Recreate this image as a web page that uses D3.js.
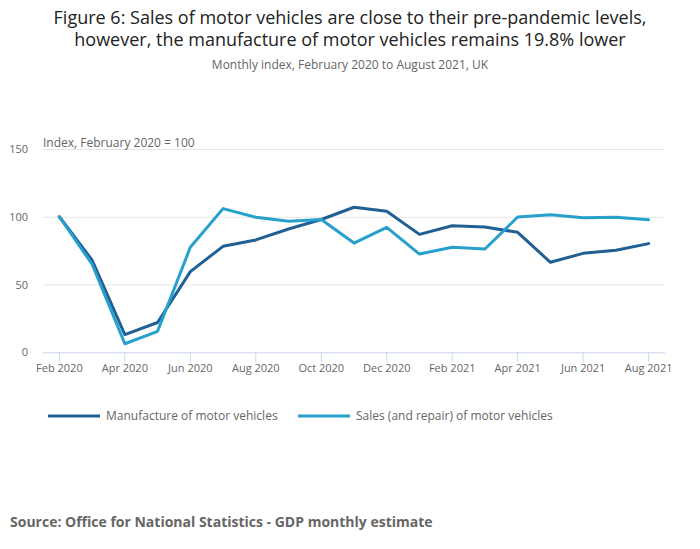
<!DOCTYPE html>
<html>
<head>
<meta charset="utf-8">
<script src="https://cdn.jsdelivr.net/npm/d3@7"></script>
<style>
  body { margin: 0; background: #fff; }
  svg { display: block; font-family: "Open Sans", sans-serif; }
</style>
</head>
<body>
<svg id="chart" width="700" height="549"></svg>
<script>
const months = ["Feb 2020","Mar 2020","Apr 2020","May 2020","Jun 2020","Jul 2020","Aug 2020","Sep 2020","Oct 2020","Nov 2020","Dec 2020","Jan 2021","Feb 2021","Mar 2021","Apr 2021","May 2021","Jun 2021","Jul 2021","Aug 2021"];
const manufacture = [100, 68, 13, 22, 59.5, 78.2, 82.9, 91, 98, 107, 104, 87, 93.4, 92.4, 88.5, 66.4, 73, 75.3, 80.2];
const sales = [100, 65, 6.3, 15.5, 77.5, 106, 99.6, 96.7, 98, 80.6, 92.2, 72.5, 77.5, 76.2, 99.8, 101.5, 99.3, 99.6, 97.8];
const yTicks = [0, 50, 100, 150];
const xTickLabels = months.filter((d, i) => i % 2 === 0);
const seriesNames = ["Manufacture of motor vehicles", "Sales (and repair) of motor vehicles"];
const colors = ["#206095", "#27a0cc"];

const svg = d3.select("#chart");
const pLeft = 43, pRight = 665, pTop = 149, pBottom = 352.3;

const x = d3.scaleBand().domain(months).range([pLeft, pRight]);
const xc = d => x(d) + x.bandwidth() / 2;
const y = d3.scaleLinear().domain([0, 150]).range([pBottom, pTop]);

// Titles
svg.append("text").attr("x", 350).attr("y", 24).attr("text-anchor", "middle")
  .attr("font-size", 18).attr("fill", "#222").text("Figure 6: Sales of motor vehicles are close to their pre-pandemic levels,");
svg.append("text").attr("x", 350).attr("y", 46).attr("text-anchor", "middle")
  .attr("font-size", 18).attr("fill", "#222").text("however, the manufacture of motor vehicles remains 19.8% lower");
svg.append("text").attr("x", 350).attr("y", 69).attr("text-anchor", "middle")
  .attr("font-size", 12).attr("fill", "#666").text("Monthly index, February 2020 to August 2021, UK");

// Grid
const yAxis = d3.axisLeft(y).tickValues(yTicks).tickSize(-(pRight - pLeft)).tickPadding(15);
const gy = svg.append("g").attr("transform", `translate(${pLeft},0)`).call(yAxis);
gy.select(".domain").remove();
gy.selectAll(".tick line").attr("stroke", "#e6e6e6");
gy.selectAll(".tick text").attr("font-size", 11).attr("fill", "#666").attr("font-family", "Open Sans, sans-serif");
gy.selectAll(".tick").filter(d => d === 0).select("line").remove();

// X axis
const xAxis = d3.axisBottom(x).tickValues(xTickLabels).tickSize(10).tickPadding(2).tickSizeOuter(0);
const gx = svg.append("g").attr("transform", `translate(0,${pBottom})`).call(xAxis);
gx.select(".domain").attr("stroke", "#ccd6eb").attr("d", `M${pLeft},0.5H${pRight}`);
gx.selectAll(".tick line").attr("stroke", "#ccd6eb");
gx.selectAll(".tick text").attr("font-size", 11).attr("fill", "#666").attr("font-family", "Open Sans, sans-serif");

// Axis title
svg.append("text").attr("x", pLeft).attr("y", 147).attr("font-size", 12).attr("fill", "#666")
  .text("Index, February 2020 = 100");

// Lines
const line = d3.line().x((d, i) => xc(months[i])).y(d => y(d));
[manufacture, sales].forEach((s, i) => {
  svg.append("path").datum(s).attr("d", line).attr("fill", "none")
    .attr("stroke", colors[i]).attr("stroke-width", 3).attr("stroke-linejoin", "round").attr("stroke-linecap", "round");
});

// Legend
const legendX = [48, 298];
seriesNames.forEach((n, i) => {
  svg.append("line").attr("x1", legendX[i]).attr("x2", legendX[i] + 52).attr("y1", 416).attr("y2", 416)
    .attr("stroke", colors[i]).attr("stroke-width", 3);
  svg.append("text").attr("x", legendX[i] + 58).attr("y", 420).attr("font-size", 12).attr("fill", "#666").text(n);
});

// Source
svg.append("text").attr("x", 10).attr("y", 527).attr("font-size", 14).attr("font-weight", "bold")
  .attr("fill", "#666").text("Source: Office for National Statistics - GDP monthly estimate");
</script>
</body>
</html>
